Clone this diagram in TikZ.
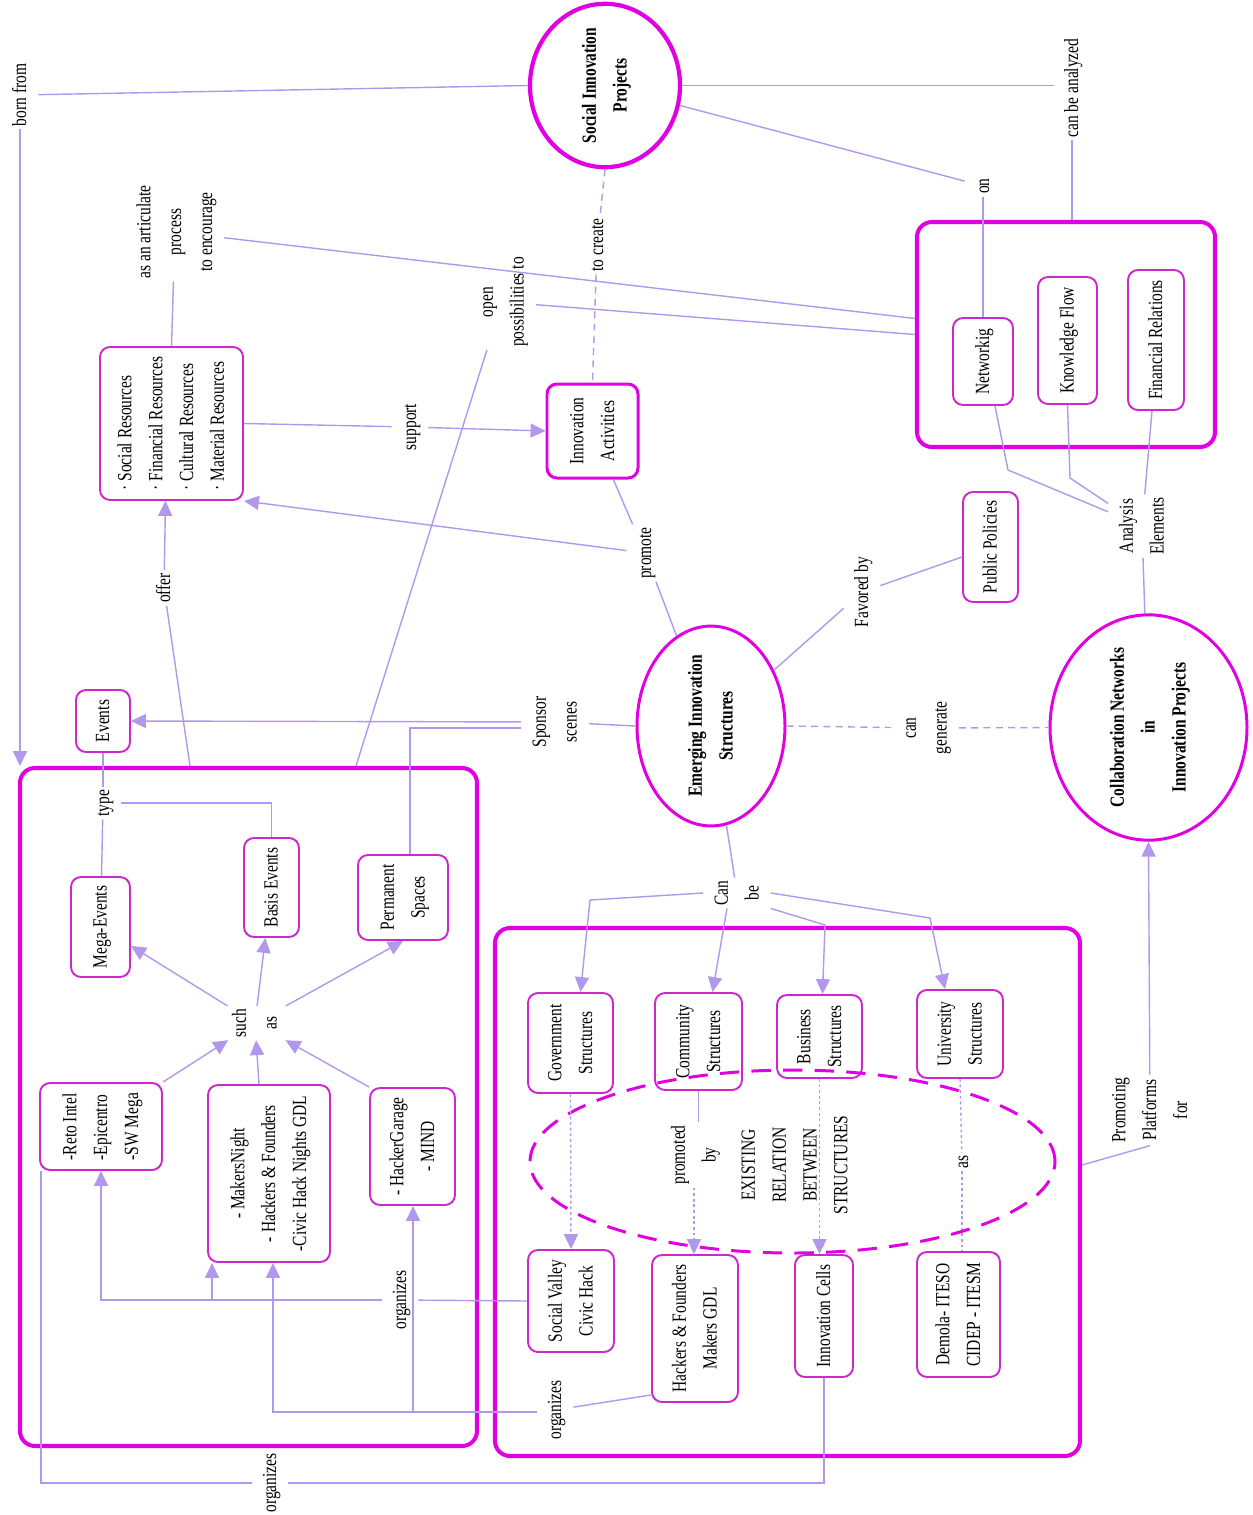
\documentclass[tikz,border=0pt]{standalone}
\usepackage{fontspec}
\setmainfont{Liberation Serif}
\usepackage{graphicx}
\usetikzlibrary{shapes.geometric,arrows.meta,calc}
\definecolor{mag}{RGB}{225,0,225}
\definecolor{boxmag}{RGB}{205,40,205}
\definecolor{lav}{RGB}{178,152,236}
\newcommand\rtx[2][c]{\rotatebox{90}{\scalebox{1}[1.3]{\begin{tabular}{@{}#1@{}}#2\end{tabular}}}}
\begin{document}
\begin{tikzpicture}[x=0.02cm,y=-0.02cm,
  every node/.style={font=\fontsize{8.8}{13.5}\selectfont},
  sz/.style 2 args={minimum width=#1*0.02cm,minimum height=#2*0.02cm},
  ctr/.style={draw=mag,line width=2.3pt,rounded corners=0.3cm,inner sep=0pt},
  box/.style={draw=boxmag,line width=1.1pt,rounded corners=0.2cm,fill=white,inner sep=0pt},
  ell/.style={ellipse,draw=mag,line width=1.7pt,fill=white,inner sep=0pt,font=\fontsize{8.8}{13.5}\selectfont\bfseries},
  lbl/.style={inner sep=1.5pt},
  conn/.style={draw=lav,line width=0.8pt},
  arr/.style={conn,-{Triangle[length=8.5pt,width=8pt]}},
  dsh/.style={conn,dash pattern=on 4pt off 3pt},
  dotl/.style={conn,dash pattern=on 1.6pt off 1.6pt},
  dotarr/.style={dotl,-{Triangle[length=8.5pt,width=8pt]}}]
\useasboundingbox (0,0) rectangle (1253,1515);

% containers
\node[ctr,sz={298}{225}] (CTR) at (1066,334.5) {};
\node[ctr,sz={457}{678}] (CL) at (248.5,1107) {};
\node[ctr,sz={585}{528}] (CBR) at (787.5,1192) {};

% ellipses
\node[ell,line width=2.4pt,sz={150}{155}] (sip) at (605,85.5) {\rtx{Social Innovation\\Projects}};
\node[ell,sz={197}{205}] (cn) at (1148.5,727.5) {\rtx{Collaboration Networks\\in\\Innovation Projects}};
\node[ell,sz={148}{178}] (eis) at (711,726) {\rtx{Emerging Innovation\\Structures}};

% boxes
\node[box,sz={60}{87}] (net) at (983,361.5) {\rtx{Networkig}};
\node[box,sz={59}{127}] (kf) at (1067.5,340.5) {\rtx{Knowledge Flow}};
\node[box,sz={56}{140}] (fr) at (1156,340) {\rtx{Financial Relations}};
\node[box,draw=mag,line width=1.7pt,sz={91}{94}] (ia) at (592.5,431) {\rtx{Innovation\\Activities}};
\node[box,sz={143}{153}] (res) at (171.5,423.5) {\rtx[l]{· Social Resources\\· Financial Resources\\· Cultural Resources\\· Material Resources}};
\node[box,sz={55}{110}] (pp) at (990.5,547) {\rtx{Public Policies}};
\node[box,sz={54}{62}] (ev) at (103,721) {\rtx{Events}};
\node[box,sz={59}{100}] (mega) at (100.5,927) {\rtx{Mega-Events}};
\node[box,sz={55}{99}] (basis) at (271.5,887.5) {\rtx{Basis Events}};
\node[box,sz={90}{85}] (perm) at (403,897.5) {\rtx{Permanent\\Spaces}};
\node[box,sz={122}{87}] (reto) at (101,1126.5) {\rtx[l]{-Reto Intel\\-Epicentro\\-SW Mega}};
\node[box,sz={122}{177}] (makers) at (269,1173.5) {\rtx{- MakersNight\\- Hackers \& Founders\\-Civic Hack Nights GDL}};
\node[box,sz={85}{117}] (hg) at (412.5,1146.5) {\rtx{- HackerGarage\\- MIND}};
\node[box,sz={85}{100}] (gov) at (570.5,1043) {\rtx{Government\\Structures}};
\node[box,sz={87}{97}] (com) at (698.5,1041.5) {\rtx{Community\\Structures}};
\node[box,sz={85}{83}] (bus) at (819.5,1036.5) {\rtx{Business\\Structures}};
\node[box,sz={86}{88}] (uni) at (960,1034) {\rtx{University\\Structures}};
\node[box,sz={86}{102}] (sv) at (571,1301) {\rtx{Social Valley\\Civic Hack}};
\node[box,sz={86}{147}] (hf) at (695,1328.5) {\rtx{Hackers \& Founders\\Makers GDL}};
\node[box,sz={58}{122}] (ic) at (824,1316) {\rtx{Innovation Cells}};
\node[box,sz={83}{125}] (dem) at (958.5,1314.5) {\rtx{Demola- ITESO\\CIDEP - ITESM}};

% relation ellipse
\node[ellipse,draw=mag,line width=1.7pt,dash pattern=on 11pt off 7pt,inner sep=0pt,sz={525}{183}] (rel) at (792.5,1161.5) {};

% labels
\node[lbl] (lborn) at (20,95) {\rtx{born from}};
\node[lbl] (lcba) at (1072,88) {\rtx{can be analyzed}};
\node[lbl] (lon) at (983,186) {\rtx{on}};
\node[lbl] (lart) at (175,232) {\rtx{as an articulate\\process\\to encourage}};
\node[lbl] (lopen) at (502,302) {\rtx{open\\possibilities to}};
\node[lbl] (lcreate) at (597,245) {\rtx{to create}};
\node[lbl] (lsupport) at (410,427) {\rtx{support}};
\node[lbl] (lpromote) at (645,553) {\rtx{promote}};
\node[lbl] (lfavored) at (862,592) {\rtx{Favored by}};
\node[lbl] (lanalysis) at (1142,526) {\rtx{Analysis\\Elements}};
\node[lbl] (loffer) at (164,588) {\rtx{offer}};
\node[lbl] (lsponsor) at (555,722) {\rtx{Sponsor\\scenes}};
\node[lbl] (lgen) at (925,728) {\rtx{can\\generate}};
\node[lbl] (ltype) at (103,803) {\rtx{type}};
\node[lbl] (lsuch) at (255,1023) {\rtx{such\\as}};
\node[lbl] (lcanbe) at (737,893) {\rtx{Can\\be}};
\node[lbl] (lprom) at (694,1155) {\rtx{promoted\\by}};
\node[lbl] (lexist) at (795,1165) {\rtx{EXISTING\\RELATION\\BETWEEN\\STRUCTURES}};
\node[lbl] (las) at (962,1162) {\rtx{as}};
\node[lbl] (lplat) at (1150,1110) {\rtx{Promoting\\Platforms\\for}};
\node[lbl] (lorg1) at (400,1300) {\rtx{organizes}};
\node[lbl] (lorg2) at (555,1410) {\rtx{organizes}};
\node[lbl] (lorg3) at (270,1483) {\rtx{organizes}};

% ---- connectors ----
% Social Innovation Projects
\draw[conn] (sip.west) -- (lborn);
\draw[arr] (lborn.south) -- (lborn.south |- CL.north);
\draw[conn] (sip.east) -- (sip.east -| lcba.west);
\draw[conn] (lcba.south) -- (lcba.south |- CTR.north);
\draw[conn] (sip) -- (lon);
\draw[conn] (lon.south) -- (lon.south |- net.north);
\draw[dsh] (sip.south) -- (lcreate);
\draw[dsh] (lcreate) -- (ia.north);
% resources
\draw[conn] (res.north) -- (lart);
\draw[conn] (lart) -- ($(CTR.west)+(0,-16)$);
\draw[conn] (lopen) -- (CTR.west);
\coordinate (clp) at ($(CL.north west)+(338,0)$);
\draw[conn] (lopen) -- (clp);
\draw[conn] (res.east) -- (lsupport);
\draw[arr] (lsupport) -- (ia.west);
\coordinate (clo) at ($(CL.north west)+(172,0)$);
\draw[conn] (clo) -- (loffer);
\draw[arr] (loffer) -- ($(res.south)+(-6,0)$);
% emerging innovation structures
\draw[conn] (eis) -- (lpromote);
\draw[conn] (lpromote) -- (ia);
\draw[arr] (lpromote) -- (res.south east);
\draw[conn] (eis) -- (lfavored);
\draw[conn] (lfavored) -- (pp);
\draw[dsh] (eis.east) -- (lgen);
\draw[dsh] (lgen) -- (cn.west);
\draw[conn] (eis.west) -- (lsponsor);
\draw[arr] (lsponsor) -- (ev.east);
\coordinate (sp2) at (410,728);
\draw[conn] (lsponsor.west |- sp2) -- (sp2) -- (sp2 |- perm.north);
% analysis elements
\draw[conn] (cn) -- (lanalysis);
\coordinate (an1) at (1008,470);
\coordinate (an2) at (1070,478);
\draw[conn] ($(net.south)+(12,0)$) -- (an1) -- (lanalysis);
\draw[conn] (kf.south) -- (an2) -- (lanalysis);
\draw[conn] ($(fr.south)+(-4,0)$) -- (lanalysis);
% can be
\draw[conn] (eis) -- (lcanbe);
\coordinate (cb1) at (590,900);
\coordinate (cb3) at (825,925);
\coordinate (cb4) at (930,918);
\draw[arr] (lcanbe.west) -- (cb1) -- ($(gov.north)+(10,0)$);
\draw[arr] ($(lcanbe.south)+(-10,0)$) -- ($(com.north)+(14,0)$);
\draw[arr] (lcanbe.south east) -- (cb3) -- ($(bus.north)+(3,0)$);
\draw[arr] (lcanbe.east) -- (cb4) -- ($(uni.north)+(-15,0)$);
% type / such as
\draw[conn] (ev) -- (ltype);
\draw[conn] (ltype) -- (mega);
\draw[conn] (ltype.east) -- (ltype.east -| basis.north) -- (basis.north);
\draw[arr] (lsuch) -- (mega);
\draw[arr] (lsuch) -- (basis);
\draw[arr] (lsuch) -- (perm.south);
\draw[arr] (reto.north east) -- (lsuch);
\draw[arr] ($(makers.north)+(-10,0)$) -- (lsuch);
\draw[arr] (hg.north west) -- (lsuch);
% organizes
\draw[conn] (sv.west) -- (lorg1);
\draw[arr] (lorg1.west) -- (lorg1.west -| reto.south) -- (reto.south);
\coordinate (mk1) at ($(makers.south west)+(5,0)$);
\draw[arr] (lorg1.west -| mk1) -- (mk1);
\draw[conn] ($(hf.south west)+(0,-8)$) -- (lorg2);
\coordinate (og2) at (413,1412);
\draw[arr] (lorg2.west |- og2) -- (og2) -- (og2 |- hg.south);
\coordinate (mk2) at ($(makers.south)+(4,0)$);
\draw[arr] (og2) -- (og2 -| mk2) -- (mk2);
\draw[conn] (ic.south) -- (ic.south |- lorg3) -- (lorg3);
\coordinate (r3) at ($(reto.south west)+(2,0)$);
\draw[conn] (lorg3) -- (lorg3 -| r3) -- (r3);
% relations between structures
\draw[dotarr] (gov.south) -- (sv.north);
\draw[conn] (com.south) -- (com.south |- lprom.north);
\draw[dotarr] (lprom) -- (lprom |- hf.north);
\draw[dotarr] (bus.south) -- (bus.south |- ic.north);
\draw[dotl] (uni.south) -- (las);
\draw[dotl] (las) -- (las |- dem.north);
% promoting platforms
\draw[conn] ($(CBR.east)+(0,-27)$) -- (lplat.south);
\draw[arr] (lplat) -- (cn.south);
\end{tikzpicture}
\end{document}
